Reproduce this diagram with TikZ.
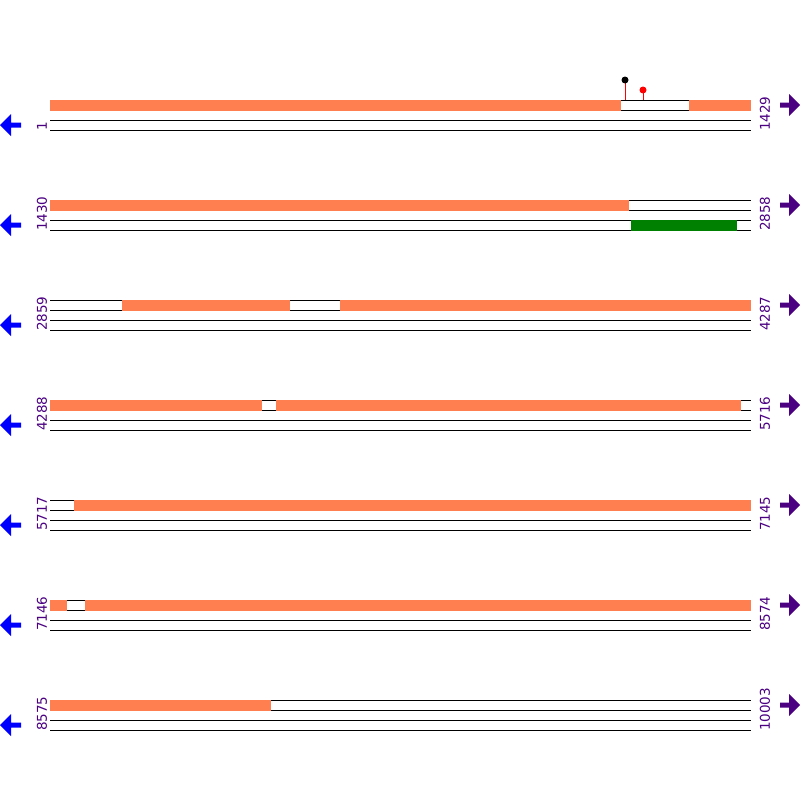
\documentclass[tikz,border=0pt]{standalone}
\usepackage{fontspec}
\newfontfamily\numfont{DejaVu Sans}
\definecolor{segorange}{HTML}{FF7F50}
\definecolor{numpurple}{HTML}{4B0082}
\definecolor{genegreen}{HTML}{008000}
\tikzset{
  numlbl/.style={rotate=90,anchor=west,inner sep=0pt,text=numpurple,
    font=\numfont\fontsize{13.5}{13.5}\selectfont},
  strand/.style={line width=1pt}
}
\begin{document}
\begin{tikzpicture}[x=1pt,y=-1pt]
    \useasboundingbox (0,0) rectangle (800,800);
    % rows: top y / first / last position
    \foreach \y/\a/\b in {100/1/1429,200/1430/2858,300/2859/4287,400/4288/5716,
                          500/5717/7145,600/7146/8574,700/8575/10003} {
      \foreach \d in {0,10,20,30} \draw[strand] (50,\y+\d)--(751,\y+\d);
      \node[numlbl] at (42,\y+31) {\a};
      \node[numlbl] at (765,\y+31) {\b};
      \fill[blue] (0,\y+25)--(11,\y+14)--(11,\y+22.5)--(21,\y+22.5)--(21,\y+27.5)
                  --(11,\y+27.5)--(11,\y+36)--cycle;
      \fill[numpurple] (800,\y+5)--(789,\y-6)--(789,\y+2.5)--(780,\y+2.5)--(780,\y+7.5)
                  --(789,\y+7.5)--(789,\y+16)--cycle;
    }
    % forward strand segments
    \foreach \y/\s/\e in {100/50/621,100/689/751,200/50/629,300/122/290,300/340/751,
                          400/50/262,400/276/741,500/74/751,600/50/67,600/85/751,700/50/271}
      \fill[segorange] (\s,\y-0.5) rectangle (\e,\y+10.5);
    % reverse strand
    \fill[genegreen] (631,219.5) rectangle (737,230.5);
    % sites
    \draw[red,line width=1pt] (625,80)--(625,100);
    \fill[black] (625,80) circle (3.5);
    \draw[red,line width=1pt] (643,90)--(643,100);
    \fill[red] (643,90) circle (3.5);
\end{tikzpicture}
\end{document}
